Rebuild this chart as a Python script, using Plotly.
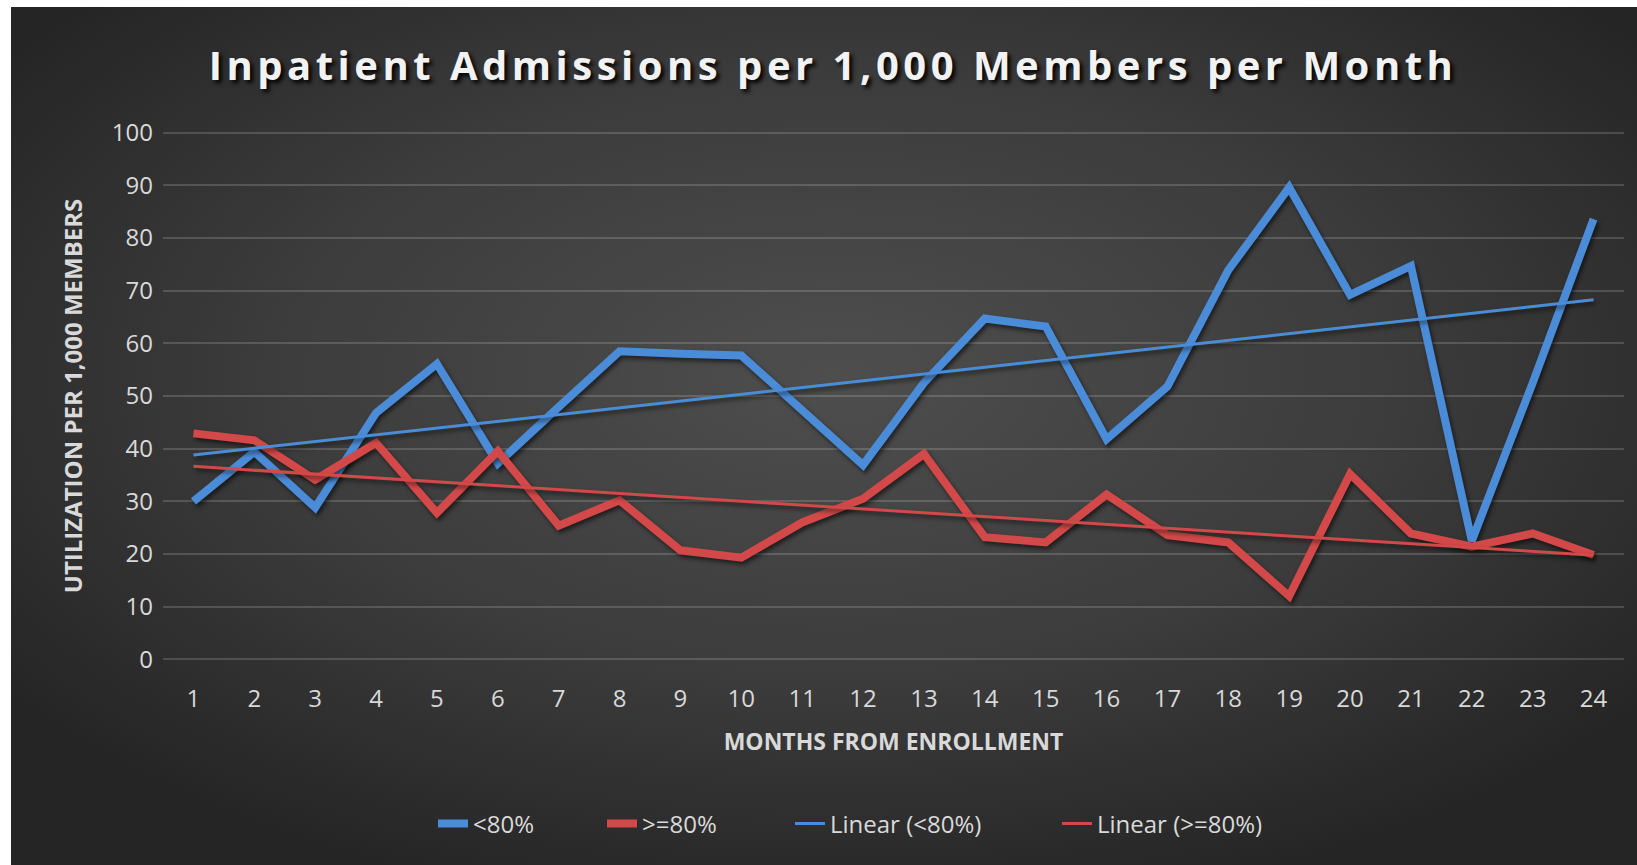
import base64
import numpy as np
import plotly.graph_objects as go

# ---- data ----
months = list(range(1, 25))
month_labels = [str(m) for m in months]
under80 = [30.0, 39.4, 28.8, 46.8, 56.1, 37.2, 47.9, 58.5, 58.0, 57.7, 47.3, 36.9,
           52.5, 64.7, 63.2, 41.8, 51.8, 73.9, 89.6, 69.2, 74.7, 22.5, 52.5, 83.6]
over80 = [42.9, 41.6, 34.1, 41.1, 27.8, 39.5, 25.4, 30.2, 20.7, 19.3, 26.0, 30.5,
          39.0, 23.2, 22.2, 31.3, 23.6, 22.2, 12.0, 35.2, 23.9, 21.4, 23.9, 19.8]
y_ticks = [0, 10, 20, 30, 40, 50, 60, 70, 80, 90, 100]
series_names = ["<80%", ">=80%", "Linear (<80%)", "Linear (>=80%)"]

BLUE = "#4a8cd8"
RED = "#d34848"
TXT = "#d9d9d9"
EDGE = "#262626"

W, H = 1637, 865
L, R, T, B = 163, 13, 130, 203
pw, ph = W - L - R, H - T - B

x = np.array(months, dtype=float)
fit_u = np.polyval(np.polyfit(x, under80, 1), x)
fit_o = np.polyval(np.polyfit(x, over80, 1), x)

legend_ids = ["legend", "legend2", "legend3", "legend4"]
fig = go.Figure()
fig.add_trace(go.Scatter(x=months, y=under80, mode="lines", name=series_names[0],
                         legend=legend_ids[0], line=dict(color=BLUE, width=8)))
fig.add_trace(go.Scatter(x=months, y=over80, mode="lines", name=series_names[1],
                         legend=legend_ids[1], line=dict(color=RED, width=8)))
fig.add_trace(go.Scatter(x=months, y=fit_u, mode="lines", name=series_names[2],
                         legend=legend_ids[2], line=dict(color=BLUE, width=3)))
fig.add_trace(go.Scatter(x=months, y=fit_o, mode="lines", name=series_names[3],
                         legend=legend_ids[3], line=dict(color=RED, width=3)))

svg = ('<svg xmlns="http://www.w3.org/2000/svg" width="1000" height="600" '
       'viewBox="0 0 1000 600" preserveAspectRatio="none">'
       '<defs><radialGradient id="g" cx="0.5" cy="0.42" r="0.62">'
       '<stop offset="0" stop-color="#4e4e4e"/><stop offset="0.55" stop-color="#3c3c3c"/>'
       '<stop offset="1" stop-color="#252525"/></radialGradient></defs>'
       '<rect width="1000" height="600" fill="url(#g)"/></svg>')
src = "data:image/svg+xml;base64," + base64.b64encode(svg.encode()).decode()

x0_px, y0_px = 11, 7
fig.add_layout_image(dict(
    source=src, xref="paper", yref="paper",
    x=(x0_px - L) / pw, y=(H - B - y0_px) / ph,
    sizex=(W + 20 - x0_px) / pw, sizey=(H + 20 - y0_px) / ph,
    xanchor="left", yanchor="top", sizing="stretch", layer="below"))

# white frame at top and left of the picture (as in the reference)
fig.add_shape(type="rect", xref="paper", yref="paper", layer="below",
              x0=(-5 - L) / pw, x1=(x0_px - L) / pw, y0=(H - B - H - 5) / ph, y1=(H - B + 5) / ph,
              fillcolor="white", line=dict(width=0))
fig.add_shape(type="rect", xref="paper", yref="paper", layer="below",
              x0=(-5 - L) / pw, x1=(W + 5 - L) / pw, y0=(H - B - y0_px) / ph, y1=(H - B + 5) / ph,
              fillcolor="white", line=dict(width=0))

title_text = ('<span style="letter-spacing:4.5px">'
              'Inpatient Admissions per 1,000 Members per Month</span>')

# legend text start positions (px) in the reference
legend_text_px = [475, 644, 832, 1099]
legend_y = (H - B - 824) / ph
legends = {}
for lid, tx in zip(legend_ids, legend_text_px):
    legends[lid] = dict(orientation="h", x=(tx - 42 - L) / pw, xanchor="left",
                        y=legend_y, yanchor="middle",
                        font=dict(family="Open Sans", size=24, color=TXT),
                        bgcolor="rgba(0,0,0,0)")

fig.update_layout(
    width=W, height=H,
    margin=dict(l=L, r=R, t=T, b=B, autoexpand=False),
    paper_bgcolor=EDGE, plot_bgcolor="rgba(0,0,0,0)",
    title=dict(text=title_text,
               x=833 / W, xref="container", xanchor="center",
               y=1 - 66 / H, yref="container", yanchor="middle",
               font=dict(family="Open Sans", size=40, color="#f2f2f2", weight="bold",
                         shadow="3px 3px 4px #000000")),
    showlegend=True,
    xaxis=dict(range=[0.5, 24.5], tickmode="array", tickvals=months, ticktext=month_labels,
               showgrid=False, zeroline=False, showline=False, ticks="",
               ticklabelstandoff=20,
               tickfont=dict(family="Open Sans", size=24, color=TXT),
               title=dict(text="MONTHS FROM ENROLLMENT", standoff=20,
                          font=dict(family="Open Sans", size=23, color=TXT, weight="bold"))),
    yaxis=dict(range=[-0.5, 100.5], tickmode="array", tickvals=y_ticks,
               showgrid=True, gridcolor="rgba(255,255,255,0.16)", gridwidth=1.5,
               zeroline=False, showline=False, ticks="", ticklabelstandoff=9,
               tickfont=dict(family="Open Sans", size=24, color=TXT),
               title=dict(text="UTILIZATION PER 1,000 MEMBERS", standoff=22,
                          font=dict(family="Open Sans", size=24, color=TXT, weight="bold"))),
    **legends,
)

post = (
    "document.body.style.margin='0';"
    "document.body.style.overflow='hidden';"
    "document.body.style.background='" + EDGE + "';"
    "var st=document.createElement('style');"
    "st.textContent='.scatterlayer .trace path.js-line{filter:drop-shadow(2px 3px 2px rgba(0,0,0,0.55));}';"
    "document.head.appendChild(st);"
)
fig.write_html("out.html", config={"displayModeBar": False}, post_script=post)
